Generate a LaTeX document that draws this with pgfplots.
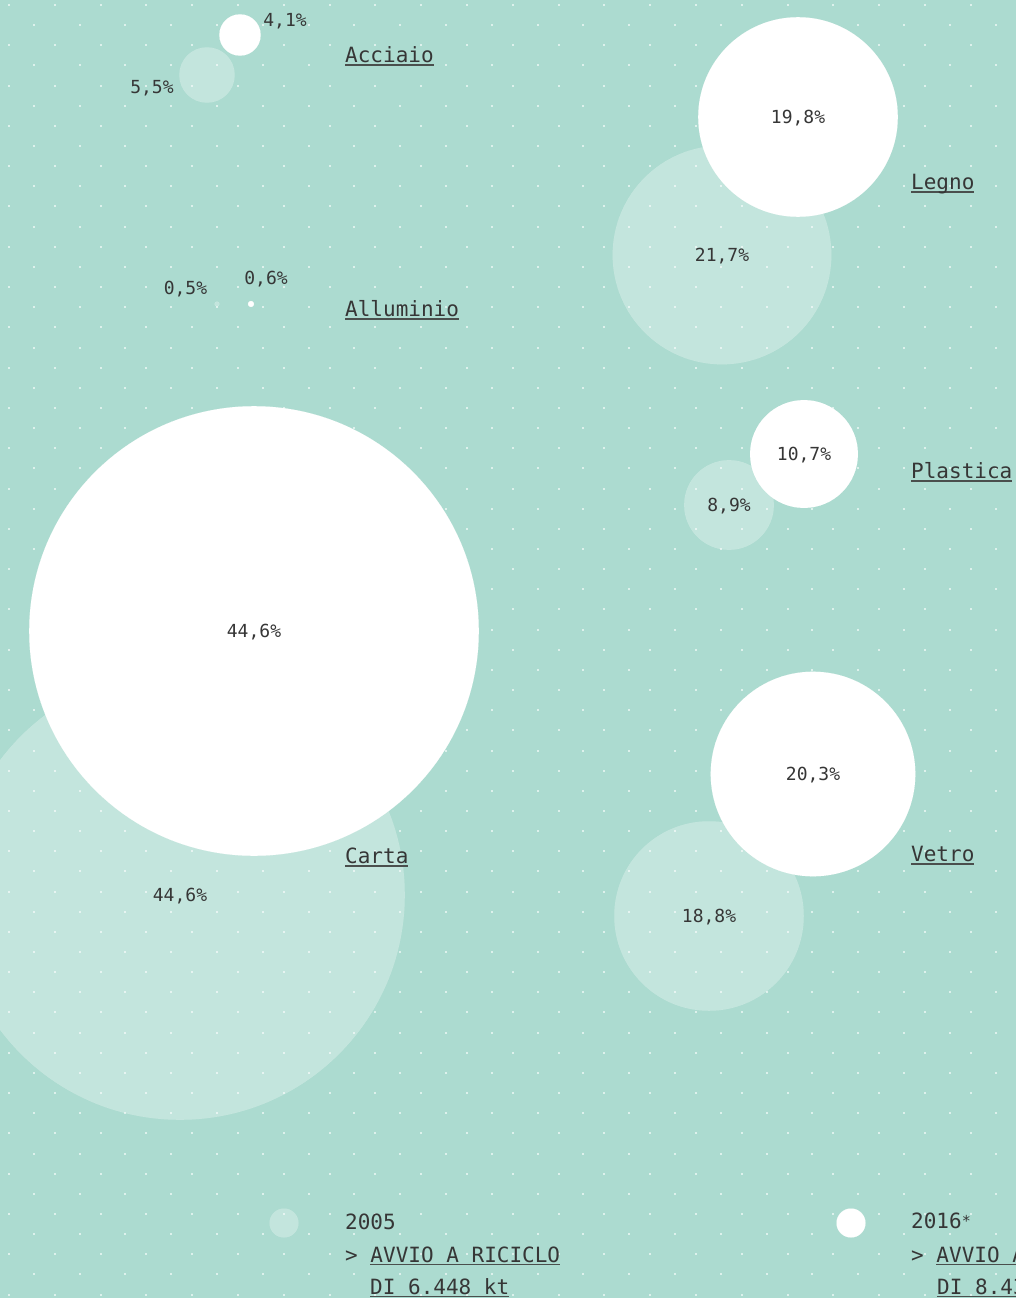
\documentclass[border=0pt]{standalone}
\usepackage{fontspec}
\setmainfont{DejaVu Sans Mono}
\usepackage{pgfplots}
\usepackage{pgfplotstable}
\pgfplotsset{compat=1.18}

\definecolor{bg}{HTML}{ACDBD0}
\definecolor{dotc}{HTML}{DDF1EC}
\definecolor{txt}{HTML}{363636}
\definecolor{uline}{HTML}{4A4F4D}

% underline at a fixed depth, crossing descenders like the original
\newcommand{\ul}[1]{\setbox0=\hbox{#1}\rlap{\color{uline}\rule[-2.8pt]{\wd0}{1.3pt}}\box0}
\newcommand{\fpct}{\fontsize{18}{20}\selectfont}
\newcommand{\fcat}{\fontsize{21}{24}\selectfont}

% 2005: x y (pixel position), v = quota %, lx ly = label centre
\pgfplotstableread{
x   y   v    lx    ly
207 75  5.5  152   87
217 304 0.5  185.5 288
722 255 21.7 722   255
729 505 8.9  729   505
180 895 44.6 180   895
709 916 18.8 709   916
}\dataA
% 2016
\pgfplotstableread{
x   y   v    lx    ly
240 35  4.1  285   20
251 304 0.6  266   278
798 117 19.8 798   117
804 454 10.7 804   454
254 631 44.6 254   631
813 774 20.3 813   774
}\dataB

\begin{document}
\begin{tikzpicture}
\useasboundingbox (0,0) rectangle (1016pt,1298pt);
\clip (0,0) rectangle (1016pt,1298pt);
\fill[bg] (0,0) rectangle (1016pt,1298pt);
% dotted background
\begin{scope}[x=1pt,y=1pt]
\foreach \j in {0,2,...,64}{
  \foreach \i in {0,...,22}{
    \fill[dotc] ({9+45.8*\i-1},{1293-20.15*\j-1}) rectangle ++(2,2);
  }
}
\foreach \j in {1,3,...,63}{
  \foreach \i in {0,...,22}{
    \fill[dotc] ({33.7+45.8*\i-1},{1293-20.15*\j-1}) rectangle ++(2,2);
  }
}
\end{scope}

\begin{axis}[
  at={(0,0)}, anchor=south west,
  scale only axis, width=1016pt, height=1298pt,
  xmin=0, xmax=1016, ymin=0, ymax=1298,
  y dir=reverse,
  hide axis, clip=true,
  every node near coord/.append style={anchor=base, yshift=-6.5pt,
    font=\fpct, text=txt, inner sep=0pt},
  pctlabel/.style={draw=none, mark=none,
    point meta=explicit,
    nodes near coords={\pgfmathprintnumber[use comma, fixed, fixed zerofill,
      precision=1, assume math mode=true]{\pgfplotspointmeta}\%}},
  bubble/.style={scatter, only marks, mark=*,
    point meta=explicit,
    scatter/use mapped color={#1},
    visualization depends on={\thisrow{v} \as \val},
    scatter/@pre marker code/.append style={/tikz/mark size=5.04*\val}},
]
% 2005 circles (translucent white)
\addplot[bubble={draw=white, fill=white, line width=0.01pt, opacity=0.28}]
  table[x=x, y=y, meta=v] {\dataA};
% 2016 circles (white)
\addplot[bubble={draw=white, fill=white, line width=0.01pt}]
  table[x=x, y=y, meta=v] {\dataB};
% legend markers
\addplot[only marks, mark=*, mark size=14.5,
  mark options={draw=white, fill=white, line width=0.01pt, opacity=0.28}] coordinates {(284,1223)};
\addplot[only marks, mark=*, mark size=14.5,
  mark options={draw=white, fill=white, line width=0.01pt}] coordinates {(851,1223)};

% percentage labels
\addplot[pctlabel] table[x=lx, y=ly, meta=v] {\dataA};
\addplot[pctlabel] table[x=lx, y=ly, meta=v] {\dataB};
\end{axis}

% category labels and legend text, on top of the circles
\begin{scope}[x=1pt, y=-1pt, yshift=1298pt,
  every node/.style={anchor=base west, font=\fcat, text=txt, inner sep=0pt}]
\node at (345,63) {\ul{Acciaio}};
\node at (345,317) {\ul{Alluminio}};
\node at (911,190) {\ul{Legno}};
\node at (911,479) {\ul{Plastica}};
\node at (345,864) {\ul{Carta}};
\node at (911,862) {\ul{Vetro}};
\node at (345,1230) {2005};
\node at (345,1262.5) {>\ \ul{AVVIO A RICICLO}};
\node at (370,1294) {\ul{DI 6.448 kt}};
\node at (911,1229) {2016\raisebox{2pt}{\fontsize{15}{15}\selectfont*}};
\node at (911,1262.5) {>\ \ul{AVVIO A RICICLO}};
\node at (937,1294) {\ul{DI 8.436 kt}};
\end{scope}
\end{tikzpicture}
\end{document}
